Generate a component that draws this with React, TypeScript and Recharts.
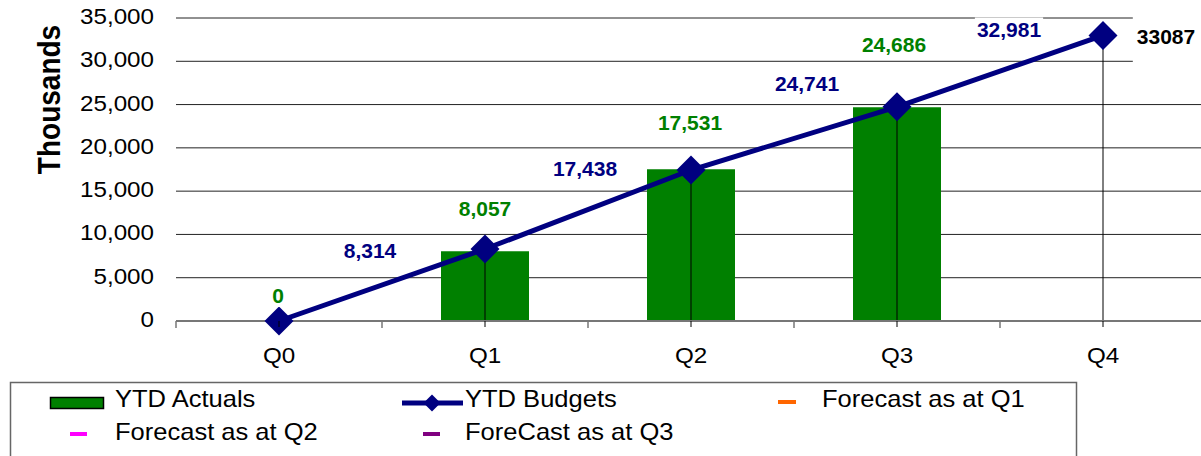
import React from 'react';
import {
  ComposedChart,
  Bar,
  Line,
  XAxis,
  YAxis,
  CartesianGrid,
  ReferenceLine,
  LabelList,
  Legend,
} from 'recharts';

// ---------------- data ----------------
const quarters = ['Q0', 'Q1', 'Q2', 'Q3', 'Q4'];
const ytdActuals: (number | null)[] = [0, 8057, 17531, 24686, null];
const ytdBudgets: (number | null)[] = [0, 8314, 17438, 24741, 32981];
const forecastQ1: (number | null)[] = [null, null, null, null, null];
const forecastQ2: (number | null)[] = [null, null, null, null, null];
const forecastQ3: (number | null)[] = [null, null, null, null, 33087];
const yTicks = [0, 5000, 10000, 15000, 20000, 25000, 30000, 35000];

const seriesNames = {
  actual: 'YTD Actuals',
  budget: 'YTD Budgets',
  fq1: 'Forecast as at Q1',
  fq2: 'Forecast as at Q2',
  fq3: 'ForeCast as at Q3',
};

// label placement (offset of label centre from the data point), Excel-like
const actualLabelShift = [[-1, -26], [0, -43], [-1, -47], [-3, -63], [0, 0]];
const budgetLabelShift = [[0, 0], [-115, 1], [-106, -2], [-90, -23], [-94, -6]];
const forecastLabelShift = [63, 2];

const data = quarters.map((q, i) => ({
  quarter: q,
  actual: ytdActuals[i],
  budget: ytdBudgets[i],
  fq1: forecastQ1[i],
  fq2: forecastQ2[i],
  fq3: forecastQ3[i],
}));

// ---------------- styles ----------------
const FONT = '"Liberation Sans", Arial, Helvetica, sans-serif';
const GREEN = '#008000';
const NAVY = '#000080';
const STRETCH = 1.1;

function SText(props: any) {
  const { x, y, size, weight = 'normal', fill = '#000', anchor = 'start', sx = STRETCH, children } = props;
  return (
    <g transform={`translate(${x},${y}) scale(${sx},1)`}>
      <text x={0} y={0} fontFamily={FONT} fontSize={size} fontWeight={weight} fill={fill} textAnchor={anchor}>
        {children}
      </text>
    </g>
  );
}

const fmt = (v: number) => v.toLocaleString('en-US');

function boldWidth(s: string, size: number) {
  let w = 0;
  for (const ch of s) w += ch === ',' ? 0.278 : 0.556;
  return w * size;
}

function DataLabel(props: any) {
  const { cx, cy, text, color, tall } = props;
  const size = 21;
  const w = boldWidth(text, size);
  return (
    <g>
      {tall ? (
        <rect x={cx - w / 2 - 4} y={cy - 23} width={w + 80} height={52} fill="#fff" />
      ) : (
        <rect x={cx - w / 2 - 2} y={cy - 12} width={w + 4} height={24} fill="#fff" />
      )}
      <text x={cx} y={cy + 7.5} textAnchor="middle" fontFamily={FONT} fontSize={size} fontWeight="bold" fill={color}>
        {text}
      </text>
    </g>
  );
}

function getBox(props: any) {
  const vb = props.viewBox || {};
  return {
    x: vb.x ?? props.x ?? 0,
    y: vb.y ?? props.y ?? 0,
  };
}

function ActualLabel(props: any) {
  const { value } = props;
  if (value === null || value === undefined) return null;
  const i = ytdActuals.indexOf(value);
  const b = getBox(props);
  const [dx, dy] = actualLabelShift[i] || [0, -40];
  return <DataLabel cx={b.x + dx} cy={b.y + dy} text={fmt(value)} color={GREEN} />;
}

function BudgetLabel(props: any) {
  const { value } = props;
  if (value === null || value === undefined || value === 0) return null;
  const i = ytdBudgets.indexOf(value);
  const b = getBox(props);
  const [dx, dy] = budgetLabelShift[i] || [-100, 0];
  return <DataLabel cx={b.x + dx} cy={b.y + dy} text={fmt(value)} color={NAVY} />;
}

function ForecastLabel(props: any) {
  const { value } = props;
  if (value === null || value === undefined) return null;
  const b = getBox(props);
  return (
    <DataLabel cx={b.x + forecastLabelShift[0]} cy={b.y + forecastLabelShift[1]} text={String(value)} color="#000" tall />
  );
}

function Diamond(props: any) {
  const { cx, cy, index } = props;
  if (cx == null || cy == null || props.value == null) return <g key={`d-${index}`} />;
  const r = 14.5;
  return (
    <polygon
      key={`d-${index}`}
      points={`${cx},${cy - r} ${cx + r},${cy} ${cx},${cy + r} ${cx - r},${cy}`}
      fill={NAVY}
    />
  );
}

function dashDot(color: string) {
  return (props: any) => {
    const { cx, cy, index } = props;
    if (cx == null || cy == null || props.value == null) return <g key={`f-${index}`} />;
    return <rect key={`f-${index}`} x={cx - 8} y={cy - 2} width={16} height={4} fill={color} />;
  };
}

function YTick(props: any) {
  const { x, y, payload } = props;
  return <SText x={x} y={y + 6} size={22} anchor="end">{fmt(payload.value)}</SText>;
}

function XTick(props: any) {
  const { x, y, payload, index, width, visibleTicksCount } = props;
  const n = visibleTicksCount || quarters.length;
  const band = (typeof width === 'number' && width > 0 ? width : 1030) / n;
  const left = x - band / 2;
  return (
    <g>
      <line x1={left} x2={left} y1={y} y2={y + 7} stroke="#777" strokeWidth={1.5} />
      {index === n - 1 && (
        <line x1={x + band / 2} x2={x + band / 2} y1={y} y2={y + 7} stroke="#777" strokeWidth={1.5} />
      )}
      <line x1={x} x2={x} y1={y} y2={y + 6} stroke="#000" strokeWidth={1} />
      <SText x={x} y={y + 42} size={22} anchor="middle">{payload.value}</SText>
    </g>
  );
}

function AxisTitle(props: any) {
  const vb = props.viewBox || { x: 0, y: 18 };
  const cx = vb.x + 48.5;
  const cy = vb.y + 81.5;
  return (
    <g transform={`translate(${cx},${cy}) scale(${STRETCH},1) rotate(-90)`}>
      <text x={0} y={10} textAnchor="middle" fontFamily={FONT} fontSize={28} fontWeight="bold" fill="#000">
        Thousands
      </text>
    </g>
  );
}

function LegendBox() {
  const ls = 23;
  const lx = 1.11;
  const dia = (cx: number, cy: number, r: number) => `${cx},${cy - r} ${cx + r},${cy} ${cx},${cy + r} ${cx - r},${cy}`;
  return (
    <svg width={1201} height={86} style={{ display: 'block' }}>
      <g transform="translate(0,-370)">
        <rect x={10.5} y={382.5} width={1066} height={110} fill="#fff" stroke="#666" strokeWidth={1.5} />
        <rect x={50.5} y={397.5} width={53} height={11} fill={GREEN} stroke="#000" strokeWidth={1.5} />
        <SText x={115} y={407} size={ls} sx={lx}>{seriesNames.actual}</SText>
        <line x1={402} x2={463} y1={403} y2={403} stroke={NAVY} strokeWidth={5} />
        <polygon points={dia(432, 403, 8.5)} fill={NAVY} />
        <SText x={465} y={407} size={ls} sx={lx}>{seriesNames.budget}</SText>
        <line x1={778} x2={796} y1={402} y2={402} stroke="#FF6600" strokeWidth={4} />
        <SText x={822} y={407} size={ls} sx={lx}>{seriesNames.fq1}</SText>
        <line x1={70} x2={87} y1={434} y2={434} stroke="#FF00FF" strokeWidth={4} />
        <SText x={115} y={440} size={ls} sx={lx}>{seriesNames.fq2}</SText>
        <line x1={423} x2={440} y1={434} y2={434} stroke="#800080" strokeWidth={4} />
        <SText x={465} y={440} size={ls} sx={lx}>{seriesNames.fq3}</SText>
      </g>
    </svg>
  );
}

export default function App() {
  return (
    <div style={{ position: 'fixed', left: 0, top: 0, width: 1201, height: 456, overflow: 'hidden', background: '#fff' }}>
      <ComposedChart
        width={1210}
        height={456}
        data={data}
        margin={{ top: 18, right: 4, bottom: 95, left: 0 }}
        barCategoryGap={0}
      >
        <CartesianGrid vertical={false} stroke="#222" strokeWidth={1} />
        <XAxis
          dataKey="quarter"
          interval={0}
          height={40}
          axisLine={{ stroke: '#777', strokeWidth: 2 }}
          tickLine={false}
          tickSize={0}
          tickMargin={0}
          tick={<XTick />}
        />
        <YAxis
          domain={[0, 35000]}
          ticks={yTicks}
          width={176}
          axisLine={false}
          tickLine={false}
          tickSize={0}
          tickMargin={22}
          tick={<YTick />}
          label={{ content: AxisTitle }}
        />
        <Bar dataKey="actual" name={seriesNames.actual} fill={GREEN} barSize={88} isAnimationActive={false} />
        {ytdBudgets.map((v, i) =>
          v !== null && v > 0 ? (
            <ReferenceLine
              key={`drop-${i}`}
              segment={[{ x: quarters[i], y: 0 }, { x: quarters[i], y: v }]}
              stroke="#000"
              strokeWidth={1}
              ifOverflow="visible"
            />
          ) : null
        )}
        <Line dataKey="fq1" name={seriesNames.fq1} stroke="#FF6600" strokeWidth={0} dot={dashDot('#FF6600')} isAnimationActive={false} />
        <Line dataKey="fq2" name={seriesNames.fq2} stroke="#FF00FF" strokeWidth={0} dot={dashDot('#FF00FF')} isAnimationActive={false} />
        <Line dataKey="fq3" name={seriesNames.fq3} stroke="#800080" strokeWidth={0} dot={dashDot('#800080')} isAnimationActive={false}>
          <LabelList dataKey="fq3" content={ForecastLabel} />
        </Line>
        <Line
          dataKey="budget"
          name={seriesNames.budget}
          stroke={NAVY}
          strokeWidth={5}
          dot={Diamond}
          activeDot={false}
          isAnimationActive={false}
        >
          <LabelList dataKey="budget" content={BudgetLabel} />
        </Line>
        {/* carrier for the YTD Actuals value labels (anchored at the bar tops) */}
        <Line
          dataKey="actual"
          name="actual-labels"
          stroke="none"
          strokeWidth={0}
          dot={false}
          activeDot={false}
          legendType="none"
          isAnimationActive={false}
        >
          <LabelList dataKey="actual" content={ActualLabel} />
        </Line>
        <Legend
          layout="horizontal"
          verticalAlign="middle"
          align="center"
          wrapperStyle={{ left: 0, top: 370, width: 1201, height: 86 }}
          content={<LegendBox />}
        />
      </ComposedChart>
    </div>
  );
}
